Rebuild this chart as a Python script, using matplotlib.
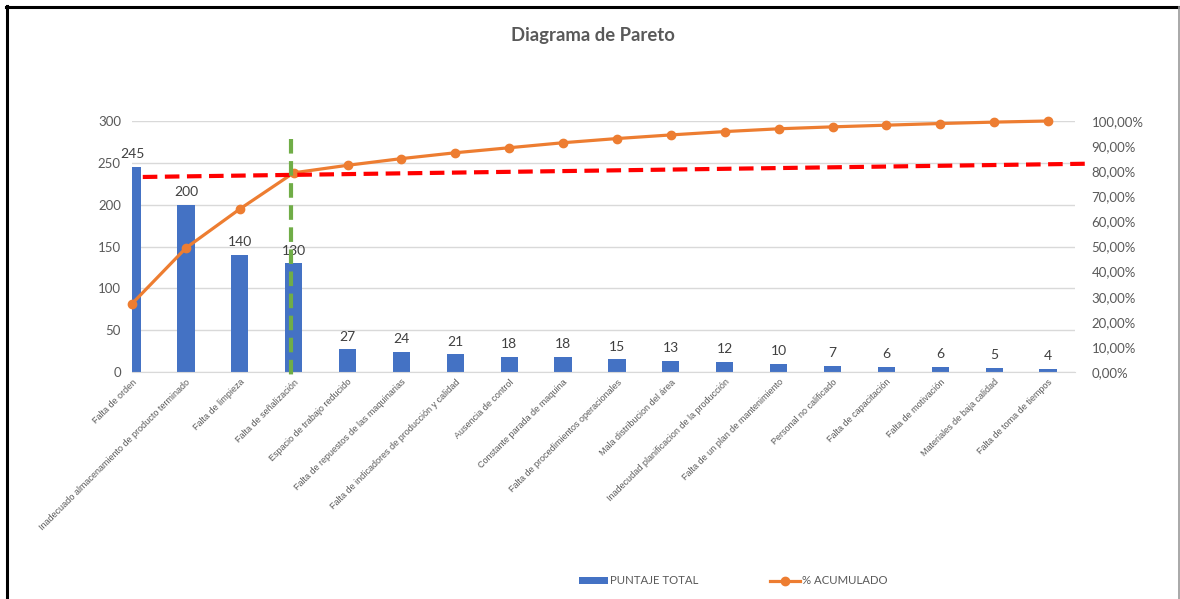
import numpy as np
import matplotlib
matplotlib.use("Agg")
import matplotlib.pyplot as plt
from matplotlib.ticker import FuncFormatter, MultipleLocator
from matplotlib.lines import Line2D
from matplotlib.patches import Patch

# Causes and their total scores
categories = [
    "Falta de orden",
    "Inadecuado almacenamiento de producto terminado",
    "Falta de limpieza",
    "Falta de señalización",
    "Espacio de trabajo reducido",
    "Falta de repuestos de las maquinarias",
    "Falta de indicadores de producción y calidad",
    "Ausencia de control",
    "Constante parada de maquina",
    "Falta de procedimientos operacionales",
    "Mala distribucion del área",
    "Inadecudad planificacion de la producción",
    "Falta de un plan de mantenimiento",
    "Personal no calificado",
    "Falta de capacitación",
    "Falta de motivación",
    "Materiales de baja calidad",
    "Falta de toma de tiempos",
]
puntaje_total = [245, 200, 140, 130, 27, 24, 21, 18, 18, 15, 13, 12, 10, 7, 6, 6, 5, 4]

# Reference guides (80% cut line and vital-few boundary)
cut_line_x = [0.2, 17.8]
cut_line_pct = [0.777, 0.830]
boundary_x = 2.95
boundary_pct = [0.93, -0.025]

BLUE = "#4472C4"
ORANGE = "#ED7D31"
GRAY = "#595959"
GRID = "#D9D9D9"

x = np.arange(len(categories))
cumulative = np.cumsum(puntaje_total) / np.sum(puntaje_total)

plt.rcParams["font.family"] = ["Lato", "DejaVu Sans"]

fig = plt.figure(figsize=(11.8, 5.99), dpi=100)
ax = fig.add_axes([132 / 1180, 1 - 372 / 599, 943 / 1180, 251 / 599])

ax.bar(x, puntaje_total, width=0.32, color=BLUE, zorder=2)
for xi, v in zip(x, puntaje_total):
    ax.text(xi, v + 8, str(v), ha="center", va="bottom", fontsize=10,
            color="#404040", zorder=6)

ax.set_xlim(0, 17.5)
ax.set_ylim(0, 300)
ax.yaxis.set_major_locator(MultipleLocator(50))
ax.grid(axis="y", color=GRID, linewidth=1, zorder=0)
ax.set_axisbelow(True)
for s in ["top", "right", "left"]:
    ax.spines[s].set_visible(False)
ax.spines["bottom"].set_color(GRID)
ax.tick_params(axis="y", length=0, labelsize=9.5, labelcolor=GRAY, pad=8)
ax.tick_params(axis="x", length=0, pad=4)
ax.set_xticks(x)
ax.set_xticklabels(categories, rotation=45, ha="right", rotation_mode="anchor",
                   fontsize=6.5, color=GRAY, family=["Liberation Sans", "DejaVu Sans"])

ax2 = ax.twinx()
ax2.set_ylim(0, 1)
ax2.yaxis.set_major_locator(MultipleLocator(0.1))
ax2.yaxis.set_major_formatter(FuncFormatter(lambda v, p: f"{v*100:.2f}%".replace(".", ",")))
for s in ["top", "right", "left", "bottom"]:
    ax2.spines[s].set_visible(False)
ax2.tick_params(axis="y", length=0, labelsize=9.5, labelcolor=GRAY, pad=12)
ax2.plot(x, cumulative, color=ORANGE, linewidth=2.3, marker="o", markersize=6,
         zorder=3, clip_on=False)

ax2.plot(cut_line_x, cut_line_pct, color="#FF0000", linewidth=3,
         linestyle=(0, (3.5, 1.8)), zorder=5, clip_on=False)
ax2.plot([boundary_x, boundary_x], boundary_pct, color="#70AD47", linewidth=3,
         linestyle=(0, (3.5, 1.8)), zorder=5, clip_on=False)

fig.text(593 / 1180, 1 - 35 / 599, "Diagrama de Pareto", ha="center", va="center",
         fontsize=13.3, fontweight="bold", color=GRAY)

handles = [Patch(facecolor=BLUE, edgecolor="none"),
           Line2D([0], [0], color=ORANGE, linewidth=2.3, marker="o", markersize=6)]
fig.legend(handles, ["PUNTAJE TOTAL", "% ACUMULADO"], loc="center",
           bbox_to_anchor=(733 / 1180, 1 - 581 / 599), ncol=2, frameon=False,
           fontsize=8.2, labelcolor=GRAY, handlelength=2.6, handletextpad=0.15,
           columnspacing=6.3, handleheight=0.55)

# Outer frame
fig.add_artist(Line2D([6 / 1180, 1], [1 - 7 / 599] * 2, color="black", linewidth=2.2,
                      transform=fig.transFigure))
fig.add_artist(Line2D([7 / 1180] * 2, [0, 1 - 6 / 599], color="black", linewidth=2.2,
                      transform=fig.transFigure))
fig.add_artist(Line2D([1178.5 / 1180] * 2, [0, 1 - 7 / 599], color="#999999", linewidth=1.2,
                      transform=fig.transFigure))

fig.savefig("out.png", dpi=100, facecolor="white")
